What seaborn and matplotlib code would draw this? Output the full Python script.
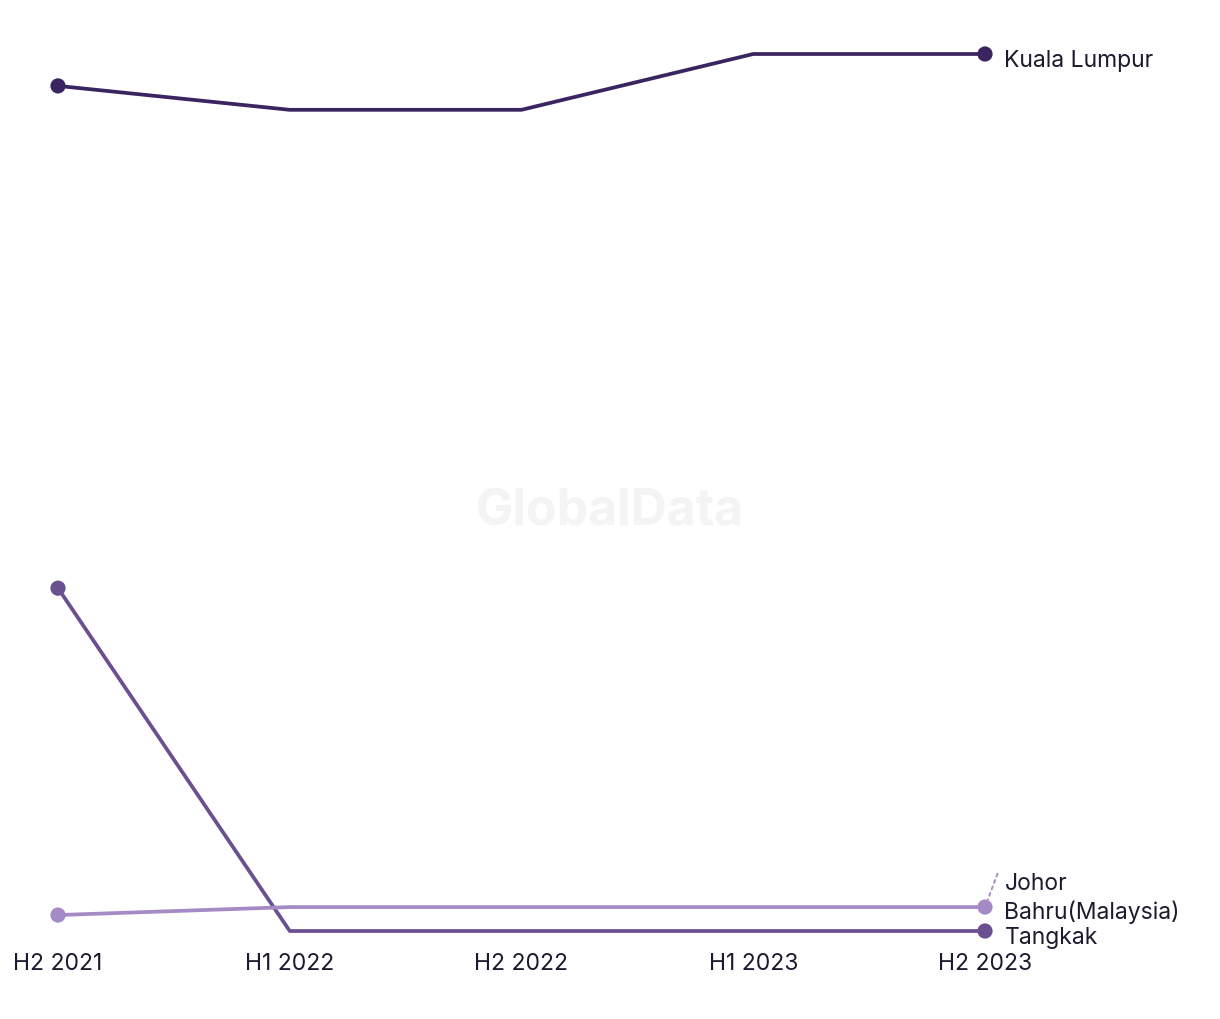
import matplotlib
matplotlib.use("Agg")
import matplotlib.pyplot as plt
import seaborn as sns
import pandas as pd

periods = ["H2 2021", "H1 2022", "H2 2022", "H1 2023", "H2 2023"]
kuala_lumpur = [106, 103, 103, 110, 110]
tangkak = [43, 0, 0, 0, 0]
johor_bahru = [2, 3, 3, 3, 3]

series_names = ["Kuala Lumpur", "Tangkak", "Johor Bahru(Malaysia)"]
series_values = [kuala_lumpur, tangkak, johor_bahru]
colors = {"Kuala Lumpur": "#3b2561", "Tangkak": "#6b5090", "Johor Bahru(Malaysia)": "#a58bc5"}

rows = []
for name, vals in zip(series_names, series_values):
    for i, (p, v) in enumerate(zip(periods, vals)):
        rows.append({"period": p, "idx": i, "value": v, "series": name})
df = pd.DataFrame(rows)

sns.set_theme(style="white")
plt.rcParams['font.family'] = ['Inter', 'DejaVu Sans']

fig = plt.figure(figsize=(12.2, 10.2), dpi=100)
ax = fig.add_axes([58/1220, (1020-932)/1020, 927/1220, 877/1020])

sns.lineplot(data=df, x="idx", y="value", hue="series", palette=colors,
             linewidth=2.7, ax=ax, legend=False, clip_on=False)
ends = df[df["idx"].isin([0, len(periods)-1])]
sns.scatterplot(data=ends, x="idx", y="value", hue="series", palette=colors,
                s=120, edgecolor="none", ax=ax, legend=False, clip_on=False, zorder=5)

fs = 16.5
ax.set_xlim(0, len(periods)-1)
ax.set_ylim(0, 110)
ax.set_xticks(range(len(periods)))
ax.set_xticklabels(periods, fontsize=fs, color="#1c1a2e")
ax.tick_params(axis="x", length=0, pad=15)
ax.set_yticks([])
ax.set_xlabel("")
ax.set_ylabel("")
for s in ax.spines.values():
    s.set_visible(False)

txt_color = "#1c1a2e"
last = len(periods) - 1
ax.annotate("Kuala Lumpur", xy=(last, kuala_lumpur[-1]), xytext=(14, -4),
            textcoords="offset points", va="center", ha="left", fontsize=fs,
            color=txt_color, annotation_clip=False)
ax.annotate("Tangkak", xy=(last, tangkak[-1]), xytext=(14, -4),
            textcoords="offset points", va="center", ha="left", fontsize=fs,
            color=txt_color, annotation_clip=False)
ax.annotate("Johor\nBahru(Malaysia)", xy=(last, johor_bahru[-1]), xytext=(14, 7),
            textcoords="offset points", va="center", ha="left", fontsize=fs,
            color=txt_color, linespacing=1.3, annotation_clip=False)
ax.annotate("", xy=(last, johor_bahru[-1]), xytext=(9, 24),
            textcoords="offset points",
            arrowprops=dict(arrowstyle="-", linestyle=(0, (1.5, 2)), color="#a58bc5",
                            lw=1.4, shrinkA=0, shrinkB=6),
            annotation_clip=False)

fig.text(610/1220, 1 - 512/1020, "GlobalData", ha="center", va="center",
         fontsize=36, fontweight="bold", color="#f4f4f4", zorder=0)

fig.savefig("out.png", dpi=100, facecolor="white")
